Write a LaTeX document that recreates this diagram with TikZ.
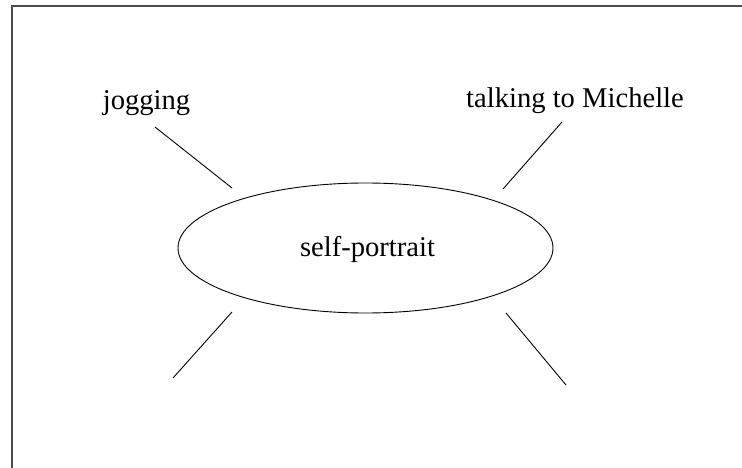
\documentclass[tikz,border=0pt]{standalone}
\usepackage{fontspec}
\setmainfont{Liberation Serif}
\usetikzlibrary{shapes.geometric}
\begin{document}
\begin{tikzpicture}[x=1pt,y=-1pt,
  lbl/.style={inner sep=0pt,font=\fontsize{28.6}{32}\selectfont,anchor=base},
  spoke/.style={draw=black,line width=0.9pt},
  oval/.style={draw=black,line width=0.9pt,ellipse,minimum width=375pt,minimum height=130pt,inner sep=0pt}]
\useasboundingbox (0,0) rectangle (742,468);
\draw[line width=1.2pt,draw=black!70] (12,480) -- (12,6) -- (760,6);
\node[oval] (c) at (365.5,248) {};
\node[lbl] (selfp) at (367.5,256) {self-portrait};
\node[lbl] (jog) at (146.5,110) {jogging};
\node[lbl] (talk) at (575,108) {talking to Michelle};
\coordinate (j1) at (155,127);
\coordinate (j2) at (232,188);
\coordinate (t1) at (562,122);
\coordinate (t2) at (503,189);
\coordinate (bl1) at (232,312);
\coordinate (bl2) at (173,378);
\coordinate (br1) at (506,313);
\coordinate (br2) at (566,385);
\draw[spoke] (j1) -- (j2);
\draw[spoke] (t1) -- (t2);
\draw[spoke] (bl1) -- (bl2);
\draw[spoke] (br1) -- (br2);
\end{tikzpicture}
\end{document}
